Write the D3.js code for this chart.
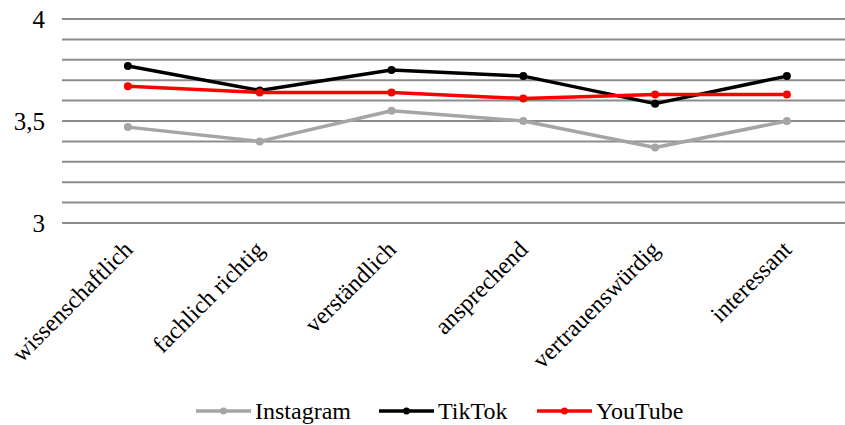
<!DOCTYPE html>
<html>
<head>
<meta charset="utf-8">
<script src="https://cdn.jsdelivr.net/npm/d3@7"></script>
<style>
  body { margin: 0; background: #fff; }
  svg { display: block; }
  svg text { font-family: "Liberation Serif", "Times New Roman", serif; fill: #000; }
</style>
</head>
<body>
<div id="chart"></div>
<script>
// categories and series values
const categories = ["wissenschaftlich", "fachlich richtig", "verständlich", "ansprechend", "vertrauenswürdig", "interessant"]
const instagram = [3.47, 3.40, 3.55, 3.50, 3.37, 3.50]
const tiktok = [3.77, 3.65, 3.75, 3.72, 3.585, 3.72]
const youtube = [3.67, 3.64, 3.64, 3.61, 3.63, 3.63]
const gridTicks = d3.range(30, 41).map(d => d / 10)
const labelTicks = [3, 3.5, 4]

const series = [
    { name: "Instagram", values: instagram, color: "#a5a5a5" },
    { name: "TikTok", values: tiktok, color: "#000000" },
    { name: "YouTube", values: youtube, color: "#ff0000" }
]

const width = 845, height = 425
const plotLeft = 62, plotTop = 19, plotH = 204
const bandW = 131.8

const svg = d3.select("#chart").append("svg")
    .attr("width", width)
    .attr("height", height)

const x = d3.scalePoint()
    .domain(categories)
    .range([plotLeft + bandW / 2, plotLeft + bandW * 5.5])

const y = d3.scaleLinear()
    .domain([3, 4])
    .range([plotTop + plotH, plotTop])

// gridlines
svg.append("g")
    .selectAll("line")
    .data(gridTicks)
    .join("line")
    .attr("x1", plotLeft)
    .attr("x2", plotLeft + bandW * 6)
    .attr("y1", d => y(d))
    .attr("y2", d => y(d))
    .attr("stroke", "#8c8c8c")
    .attr("stroke-width", 2)

// y labels
svg.append("g")
    .selectAll("text")
    .data(labelTicks)
    .join("text")
    .attr("x", 45)
    .attr("y", d => y(d))
    .attr("dy", "0.35em")
    .attr("text-anchor", "end")
    .attr("font-size", 25)
    .text(d => String(d).replace(".", ","))

// category labels, rotated
svg.append("g")
    .selectAll("text")
    .data(categories)
    .join("text")
    .attr("text-anchor", "end")
    .attr("font-size", 24)
    .attr("transform", d => `translate(${x(d) + 6},${y(3) + 28}) rotate(-45)`)
    .text(d => d)

const line = d3.line()
    .x((d, i) => x(categories[i]))
    .y(d => y(d))

const g = svg.append("g")
series.forEach(s => {
    g.append("path")
        .datum(s.values)
        .attr("fill", "none")
        .attr("stroke", s.color)
        .attr("stroke-width", 3.5)
        .attr("stroke-linejoin", "round")
        .attr("d", line)
    g.selectAll(null)
        .data(s.values)
        .join("circle")
        .attr("cx", (d, i) => x(categories[i]))
        .attr("cy", d => y(d))
        .attr("r", 4)
        .attr("fill", s.color)
})

// legend
const legendX = [196, 379, 537]
const legend = svg.append("g")
    .selectAll("g")
    .data(series)
    .join("g")
    .attr("transform", (d, i) => `translate(${legendX[i]},411)`)
legend.append("line")
    .attr("x1", 0).attr("x2", 55)
    .attr("stroke", d => d.color)
    .attr("stroke-width", 3.5)
legend.append("circle")
    .attr("cx", 27.5)
    .attr("r", 3.5)
    .attr("fill", d => d.color)
legend.append("text")
    .attr("x", 59)
    .attr("dy", "0.33em")
    .attr("font-size", 24)
    .text(d => d.name)
</script>
</body>
</html>
